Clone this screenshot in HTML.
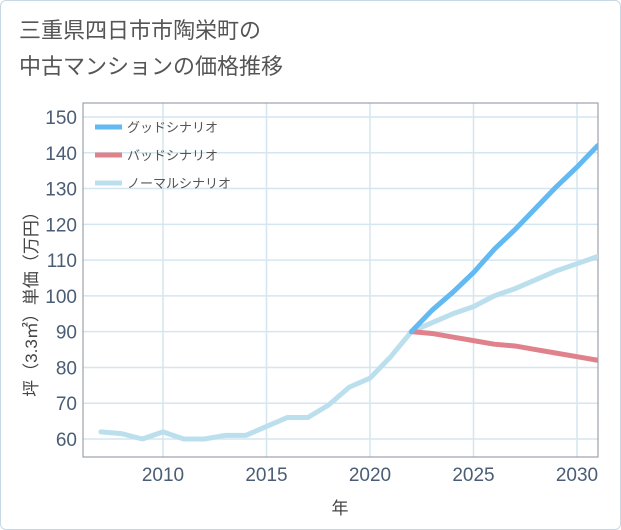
<!DOCTYPE html>
<html><head><meta charset="utf-8"><style>
body{margin:0;background:#fff;}
#wrap{position:relative;width:619px;height:528px;border:1px solid #c8d8e4;border-radius:6px;background:#fff;overflow:hidden;}
#title{position:absolute;left:18px;top:12px;font:22px "Liberation Sans","Noto Sans CJK JP",sans-serif;color:#555;line-height:36px;}
svg text{font-family:"Liberation Sans","Noto Sans CJK JP",sans-serif;}
</style></head><body>
<div id="wrap">
<div id="title">三重県四日市市陶栄町の<br>中古マンションの価格推移</div>
<svg id="chart" width="621" height="530" style="position:absolute;left:-1px;top:-1px"></svg>
</div>
<script>
const years=[2007,2008,2009,2010,2011,2012,2013,2014,2015,2016,2017,2018,2019,2020,2021,2022,2023,2024,2025,2026,2027,2028,2029,2030,2031];
const normalValues=[62,61.5,60,62,60,60,61,61,63.5,66,66,69.5,74.5,77,83,90,92.5,95,97,100,102,104.5,107,109,111];
const goodYears=[2022,2023,2024,2025,2026,2027,2028,2029,2030,2031];
const goodValues=[90,96,101,106.5,113,118.5,124.5,130.5,136,142];
const badValues=[90,89.5,88.5,87.5,86.5,86,85,84,83,82];
const yTicks=[60,70,80,90,100,110,120,130,140,150];
const xTicks=[2010,2015,2020,2025,2030];
const L=83,R=598,T=103,B=457;
const x=v=>163+(v-2010)*20.7;
const y=v=>439-(v-60)*3.578;
const svg=document.getElementById('chart');
const NS='http://www.w3.org/2000/svg';
function mk(t,a,p){const e=document.createElementNS(NS,t);for(const k in a)e.setAttribute(k,a[k]);(p||svg).appendChild(e);return e;}
yTicks.forEach(v=>{
 const g=mk('line',{x1:L,x2:R,y1:y(v),y2:y(v),stroke:'#d5e6f0','stroke-width':1.5});
 
 
 const t=mk('text',{x:L-6,y:y(v)+7,'text-anchor':'end','font-size':19,fill:'#4a5d75'});t.textContent=v;
 
 
});
xTicks.forEach(v=>{
 const g=mk('line',{x1:x(v),x2:x(v),y1:T,y2:B,stroke:'#d5e6f0','stroke-width':1.5});
 
 
 const t=mk('text',{x:x(v),y:B+24,'text-anchor':'middle','font-size':19,fill:'#4a5d75'});t.textContent=v;
 
 
});
const fr=mk('rect',{x:L,y:T,width:R-L,height:B-T,fill:'none',stroke:'#8a9299','stroke-width':1});


function line(xs,vs,color,name){
 const p=mk('polyline',{points:xs.map((d,i)=>x(d)+','+y(vs[i])).join(' '),fill:'none',stroke:color,'stroke-width':5,'stroke-linejoin':'round','stroke-linecap':'round'});
 
 
}
const cp=mk('clipPath',{id:'c'});mk('rect',{x:L,y:T,width:R-L,height:B-T},cp);
line(years,normalValues,'#bcdfee','normal-scenario-line');
line(goodYears,badValues,'#e0828c','bad-scenario-line');
line(goodYears,goodValues,'#63b9f2','good-scenario-line');
svg.querySelectorAll('polyline').forEach(p=>p.setAttribute('clip-path','url(#c)'));
const leg=[['グッドシナリオ','#63b9f2'],['バッドシナリオ','#e0828c'],['ノーマルシナリオ','#bcdfee']];
leg.forEach((d,i)=>{
 const yy=127+i*28;
 const l=mk('line',{x1:95,x2:122,y1:yy,y2:yy,stroke:d[1],'stroke-width':5});
 
 
 const t=mk('text',{x:127,y:yy+5,'font-size':13,fill:'#555'});t.textContent=d[0];
 
 
});
const xt=mk('text',{x:340,y:514,'text-anchor':'middle','font-size':17,fill:'#444'});xt.textContent='年';


const yt=mk('text',{x:0,y:0,'text-anchor':'middle','font-size':17,fill:'#444',transform:'translate(37,300) rotate(-90)'});yt.textContent='坪（3.3㎡）単価（万円）';


</script>
</body></html>
